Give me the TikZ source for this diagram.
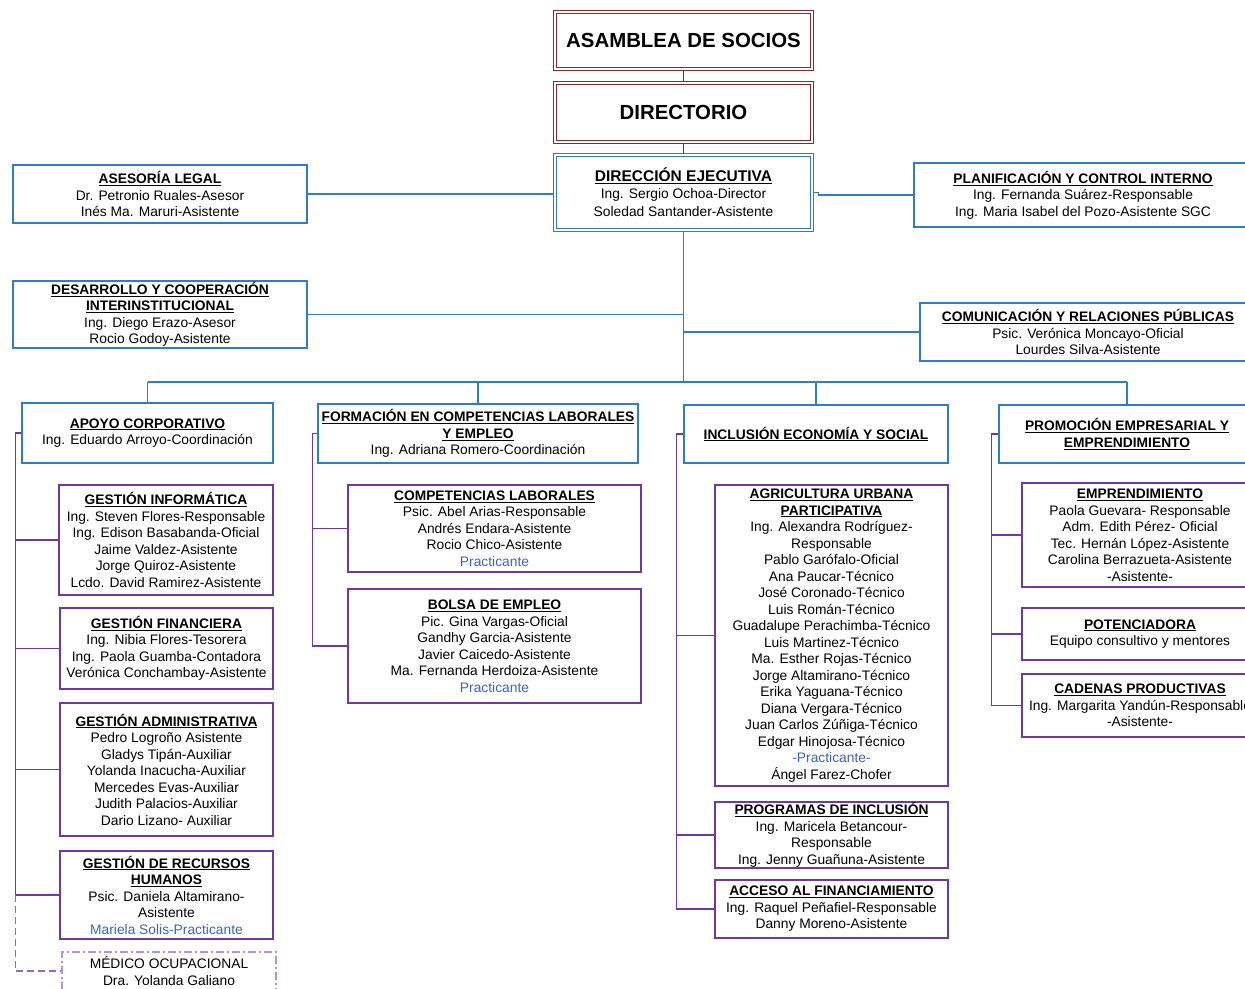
\documentclass[tikz,border=0pt]{standalone}
\usepackage{fontspec}
\setmainfont{Liberation Sans}
\usepackage{xcolor}
\usepackage{tikz}
\definecolor{rojoorg}{RGB}{150,35,40}
\definecolor{azulorg}{RGB}{45,125,200}
\definecolor{moradoorg}{RGB}{115,55,165}
\definecolor{lilaorg}{RGB}{180,145,210}
\definecolor{azulprac}{RGB}{60,100,190}
\newcommand{\hd}[1]{\textbf{\underline{#1}}}
\newcommand{\prac}[1]{{\color{azulprac}#1}}
\tikzset{
  caja/.style={rectangle, inner sep=0pt, align=center, fill=white,
    font=\fontsize{13.8}{16.5}\selectfont},
  cajaroja/.style={caja, draw=rojoorg, line width=1.1pt, double=white,
    double distance=2.4pt, font=\bfseries\fontsize{20.4}{24}\selectfont},
  cajaazul2/.style={caja, draw=azulorg, line width=1.1pt, double=white,
    double distance=2.2pt},
  cajaazul/.style={caja, draw=azulorg, line width=1.3pt},
  cajamor/.style={caja, draw=moradoorg, line width=1.4pt},
  cajalila/.style={caja, draw=lilaorg, line width=1.5pt,
    dash pattern=on 8pt off 3pt on 2pt off 3pt},
  lineroja/.style={draw=rojoorg, line width=1.3pt},
  linea/.style={draw=azulorg, line width=1.2pt},
  rama/.style={draw=moradoorg, line width=1.3pt},
  ramad/.style={rama, draw=moradoorg!75, dash pattern=on 7pt off 4pt},
}

\begin{document}
\begin{tikzpicture}[x=1pt, y=-1pt]
  \useasboundingbox (0,0) rectangle (1245,988);
  \clip (0,0) rectangle (1245,988);

  % cabeza
  \node[cajaroja, minimum width=257, minimum height=57] (asam) at (683.5,40.5) {ASAMBLEA DE SOCIOS};
  \node[cajaroja, minimum width=257, minimum height=59] (dirt) at (683.5,112.5) {DIRECTORIO};
  \node[cajaazul2, minimum width=257, minimum height=75] (dej) at (683.5,192.5)
    {{\fontsize{15.5}{18}\selectfont\hd{DIRECCIÓN EJECUTIVA}}\\Ing. Sergio Ochoa-Director\\[2pt]Soledad Santander-Asistente};

  % asesores y staff
  \node[cajaazul, minimum width=294, minimum height=58] (leg) at (160,194)
    {\hd{ASESORÍA LEGAL}\\Dr. Petronio Ruales-Asesor\\Inés Ma. Maruri-Asistente};
  \node[cajaazul, minimum width=338, minimum height=64] (plan) at (1083,195)
    {\hd{PLANIFICACIÓN Y CONTROL INTERNO}\\Ing. Fernanda Suárez-Responsable\\Ing. Maria Isabel del Pozo-Asistente SGC};
  \node[cajaazul, minimum width=294, minimum height=67] (des) at (160,314.5)
    {\hd{DESARROLLO Y COOPERACIÓN}\\\hd{INTERINSTITUCIONAL}\\Ing. Diego Erazo-Asesor\\Rocio Godoy-Asistente};
  \node[cajaazul, minimum width=336, minimum height=58] (com) at (1088,332)
    {\hd{COMUNICACIÓN Y RELACIONES PÚBLICAS}\\Psic. Verónica Moncayo-Oficial\\Lourdes Silva-Asistente};

  % areas
  \node[cajaazul, minimum width=251, minimum height=60] (apoyo) at (147.5,433)
    {\hd{APOYO CORPORATIVO}\\Ing. Eduardo Arroyo-Coordinación};
  \node[cajaazul, minimum width=320, minimum height=59] (form) at (478,433.5)
    {\hd{FORMACIÓN EN COMPETENCIAS LABORALES}\\\hd{Y EMPLEO}\\Ing. Adriana Romero-Coordinación};
  \node[cajaazul, minimum width=264, minimum height=58] (incl) at (816,434)
    {\hd{INCLUSIÓN ECONOMÍA Y SOCIAL}};
  \node[cajaazul, minimum width=256, minimum height=58] (prom) at (1127,434)
    {\hd{PROMOCIÓN EMPRESARIAL Y}\\\hd{EMPRENDIMIENTO}};

  % apoyo corporativo
  \node[cajamor, minimum width=214, minimum height=110] (ginf) at (166,540)
    {\hd{GESTIÓN INFORMÁTICA}\\Ing. Steven Flores-Responsable\\Ing. Edison Basabanda-Oficial\\Jaime Valdez-Asistente\\Jorge Quiroz-Asistente\\Lcdo. David Ramirez-Asistente};
  \node[cajamor, minimum width=213, minimum height=81] (gfin) at (166.5,648.5)
    {\hd{GESTIÓN FINANCIERA}\\Ing. Nibia Flores-Tesorera\\Ing. Paola Guamba-Contadora\\Verónica Conchambay-Asistente};
  \node[cajamor, minimum width=213, minimum height=133] (gadm) at (166.5,769.5)
    {\hd{GESTIÓN ADMINISTRATIVA}\\Pedro Logroño Asistente\\Gladys Tipán-Auxiliar\\Yolanda Inacucha-Auxiliar\\Mercedes Evas-Auxiliar\\Judith Palacios-Auxiliar\\Dario Lizano- Auxiliar};
  \node[cajamor, minimum width=213, minimum height=88] (grrhh) at (166.5,895)
    {\hd{GESTIÓN DE RECURSOS}\\\hd{HUMANOS}\\Psic. Daniela Altamirano-\\Asistente\\\prac{Mariela Solis-Practicante}};
  \node[cajalila, minimum width=214, minimum height=38] (medico) at (169,971)
    {MÉDICO OCUPACIONAL\\Dra. Yolanda Galiano};

  % formacion
  \node[cajamor, minimum width=293, minimum height=87] (comp) at (494.5,528.5)
    {\hd{COMPETENCIAS LABORALES}\\Psic. Abel Arias-Responsable\\Andrés Endara-Asistente\\Rocio Chico-Asistente\\\prac{Practicante}};
  \node[cajamor, minimum width=293, minimum height=114] (bolsa) at (494.5,646)
    {\hd{BOLSA DE EMPLEO}\\Pic. Gina Vargas-Oficial\\Gandhy Garcia-Asistente\\Javier Caicedo-Asistente\\Ma. Fernanda Herdoiza-Asistente\\\prac{Practicante}};

  % inclusion
  \node[cajamor, minimum width=233, minimum height=301] (agri) at (831.5,635.5)
    {\hd{AGRICULTURA URBANA}\\\hd{PARTICIPATIVA}\\Ing. Alexandra Rodríguez-\\Responsable\\Pablo Garófalo-Oficial\\Ana Paucar-Técnico\\José Coronado-Técnico\\Luis Román-Técnico\\Guadalupe Perachimba-Técnico\\Luis Martinez-Técnico\\Ma. Esther Rojas-Técnico\\Jorge Altamirano-Técnico\\Erika Yaguana-Técnico\\Diana Vergara-Técnico\\Juan Carlos Zúñiga-Técnico\\Edgar Hinojosa-Técnico\\\prac{-Practicante-}\\Ángel Farez-Chofer};
  \node[cajamor, minimum width=233, minimum height=66] (prog) at (831.5,835)
    {\hd{PROGRAMAS DE INCLUSIÓN}\\Ing. Maricela Betancour-\\Responsable\\Ing. Jenny Guañuna-Asistente};
  \node[cajamor, minimum width=233, minimum height=58] (acceso) at (831.5,909)
    {\hd{ACCESO AL FINANCIAMIENTO}\\Ing. Raquel Peñafiel-Responsable\\Danny Moreno-Asistente};

  % promocion
  \node[cajamor, minimum width=236, minimum height=104] (empr) at (1140,535)
    {\hd{EMPRENDIMIENTO}\\Paola Guevara- Responsable\\Adm. Edith Pérez- Oficial\\Tec. Hernán López-Asistente\\Carolina Berrazueta-Asistente\\-Asistente-};
  \node[cajamor, minimum width=236, minimum height=52] (pot) at (1140,634)
    {\hd{POTENCIADORA}\\Equipo consultivo y mentores};
  \node[cajamor, minimum width=236, minimum height=63] (cad) at (1140,705.5)
    {\hd{CADENAS PRODUCTIVAS}\\Ing. Margarita Yandún-Responsable\\-Asistente-};

  % lineas de mando
  \draw[lineroja] (asam) -- (dirt);
  \draw[lineroja] (dirt) -- (dej);
  \coordinate (bus) at (683.5,382);
  \draw[linea] (leg.east) -- (leg.east -| dej.west);
  \draw[linea] (dej.east) -- ++(6,0) |- (plan.west);
  \draw[linea] (dej.south) -- (bus);
  \draw[linea] (des.east) -- (des.east -| bus);
  \draw[linea] (com.west) -- (com.west -| bus);
  \draw[linea] (bus -| apoyo.north) -- (bus -| prom.north);
  \foreach \n in {apoyo,form,incl,prom}
    \draw[linea] (bus -| \n.north) -- (\n.north);

  % ramas
  \coordinate (a1) at ([xshift=-6pt]apoyo.west);
  \draw[rama] (apoyo.west) -- (a1) |- (grrhh.west);
  \foreach \n in {ginf,gfin,gadm}
    \draw[rama] (a1 |- \n.west) -- (\n.west);
  \draw[ramad] (a1 |- grrhh.west) |- (medico.west);

  \coordinate (a2) at ([xshift=-5pt]form.west);
  \draw[rama] (form.west) -- (a2) |- (bolsa.west);
  \draw[rama] (a2 |- comp.west) -- (comp.west);

  \coordinate (a3) at ([xshift=-7pt]incl.west);
  \draw[rama] (incl.west) -- (a3) |- (acceso.west);
  \foreach \n in {agri,prog}
    \draw[rama] (a3 |- \n.west) -- (\n.west);

  \coordinate (a4) at ([xshift=-7pt]prom.west);
  \draw[rama] (prom.west) -- (a4) |- (cad.west);
  \foreach \n in {empr,pot}
    \draw[rama] (a4 |- \n.west) -- (\n.west);
\end{tikzpicture}
\end{document}
